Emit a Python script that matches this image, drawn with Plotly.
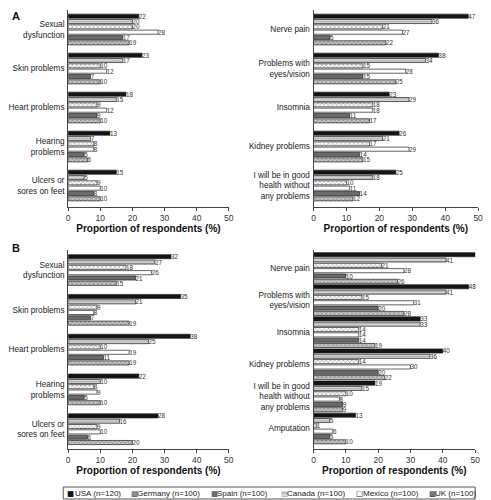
import plotly.graph_objects as go
from plotly.subplots import make_subplots

# ---------------- data ----------------
# bar order inside each group (top to bottom)
countries = ["USA", "Canada", "Germany", "Mexico", "Spain", "UK"]
legend_order = ["USA", "Germany", "Spain", "Canada", "Mexico", "UK"]
legend_labels = ["USA (n=120)", "Germany (n=100)", "Spain (n=100)",
                 "Canada (n=100)", "Mexico (n=100)", "UK (n=100)"]

cats_left = ["Sexual<br>dysfunction", "Skin problems", "Heart problems",
             "Hearing<br>problems", "Ulcers or<br>sores on feet"]
cats_right_a = ["Nerve pain", "Problems with<br>eyes/vision", "Insomnia",
                "Kidney problems", "I will be in good<br>health without<br>any problems"]
cats_right_b = ["Nerve pain", "Problems with<br>eyes/vision", "Insomnia",
                "Kidney problems", "I will be in good<br>health without<br>any problems",
                "Amputation"]

# values per country, in the order of `countries`
a_left = [[22, 23, 18, 13, 15],
          [20, 17, 15, 7, 5],
          [20, 10, 9, 8, 9],
          [28, 12, 12, 8, 10],
          [17, 7, 9, 5, 8],
          [19, 10, 10, 6, 10]]
a_right = [[47, 38, 23, 26, 25],
           [36, 34, 29, 21, 18],
           [21, 15, 18, 17, 10],
           [27, 28, 18, 29, 11],
           [5, 15, 11, 14, 14],
           [22, 25, 17, 15, 12]]
b_left = [[32, 35, 38, 22, 28],
          [27, 21, 25, 10, 16],
          [18, 9, 10, 8, 9],
          [26, 8, 19, 9, 10],
          [21, 7, 11, 5, 6],
          [15, 19, 19, 10, 20]]
b_right = [[51, 48, 33, 40, 19, 13],
           [41, 41, 33, 36, 15, 5],
           [21, 15, 14, 14, 10, 1],
           [28, 31, 14, 30, 8, 6],
           [10, 20, 14, 20, 9, 5],
           [26, 28, 19, 22, 9, 10]]

x_ticks = [0, 10, 20, 30, 40, 50]

# ---------------- styles ----------------
FONT = "Arial, Liberation Sans, DejaVu Sans, sans-serif"
OFF = 8                      # page body margin of the viewer
W, H = 491 - OFF, 500 - OFF  # figure size that fits the window


def px_x(v):
    return (v - OFF) / W


def px_y(v):
    return 1 - (v - OFF) / H


styles = {
    "USA": dict(color="#141414"),
    "Canada": dict(color="#c4c4c4",
                   pattern=dict(shape="-", fgcolor="#8c8c8c", bgcolor="#d2d2d2", size=2.5, solidity=0.35)),
    "Germany": dict(color="#ffffff",
                    pattern=dict(shape="x", fgcolor="#3a3a3a", bgcolor="#ffffff", size=3, solidity=0.35)),
    "Mexico": dict(color="#ffffff"),
    "Spain": dict(color="#6a6a6a"),
    "UK": dict(color="#bdbdbd",
               pattern=dict(shape="x", fgcolor="#2e2e2e", bgcolor="#c8c8c8", size=3, solidity=0.35)),
}
legend_syms = {
    "USA": ("■", "#141414"), "Germany": ("▩", "#555555"), "Spain": ("■", "#6a6a6a"),
    "Canada": ("▤", "#8a8a8a"), "Mexico": ("□", "#222222"), "UK": ("▩", "#333333"),
}

fig = make_subplots(rows=2, cols=2)

# panel geometry (window pixels)
panels = [
    # row, col, cats, values, x0px, x1px, ytop, ybot, first-center px, group pitch px
    (1, 1, cats_left, a_left, 67, 230, 10, 207, 29.5, 39.0),
    (1, 2, cats_right_a, a_right, 316, 483, 10, 207, 29.5, 39.0),
    (2, 1, cats_left, b_left, 67, 230, 250, 449, 270.0, 39.8),
    (2, 2, cats_right_b, b_right, 316, 480, 250, 449, 268.0, 32.1),
]
BAR_PITCH_PX = 5.33
BAR_W_PX = 4.1

for (r, c, cats, vals, x0, x1, yt, yb, c0, gp) in panels:
    p = BAR_PITCH_PX / gp
    w = BAR_W_PX / gp
    for k, ctry in enumerate(countries):
        st = styles[ctry]
        marker = dict(color=st["color"], line=dict(color="#222222", width=0.7))
        if "pattern" in st:
            marker["pattern"] = st["pattern"]
        fig.add_trace(go.Bar(
            y=cats, x=vals[k], orientation="h", name=ctry,
            width=w, offset=-3 * p + k * p + (p - w) / 2,
            marker=marker, text=vals[k], textposition="outside",
            textfont=dict(size=6.3, color="#333333", family=FONT),
            constraintext="none", cliponaxis=False, showlegend=False,
            hoverinfo="skip"), row=r, col=c)
    fig.update_xaxes(domain=[px_x(x0), px_x(x1)], range=[0, 50], tickvals=x_ticks,
                     showgrid=False, zeroline=False, showline=True, linecolor="#444444",
                     linewidth=1, ticks="outside", ticklen=3, tickcolor="#444444",
                     tickfont=dict(size=8.5, color="#333333", family=FONT),
                     title=dict(text="<b>Proportion of respondents (%)</b>",
                                font=dict(size=10, color="#111111", family=FONT), standoff=2),
                     row=r, col=c)
    fig.update_yaxes(domain=[px_y(yb), px_y(yt)], type="category",
                     categoryorder="array", categoryarray=cats,
                     range=[(yb - c0) / gp, (yt - c0) / gp],
                     showgrid=False, zeroline=False, showline=True, linecolor="#444444",
                     linewidth=1, ticks="", ticklabelstandoff=1,
                     tickfont=dict(size=8.2, color="#222222", family=FONT),
                     row=r, col=c)

# panel letters
fig.add_annotation(x=0, y=1, xref="paper", yref="paper", xanchor="left", yanchor="top",
                   text="<b>A</b>", showarrow=False, font=dict(size=11, color="#111111", family=FONT))
fig.add_annotation(x=0, y=px_y(240), xref="paper", yref="paper", xanchor="left", yanchor="top",
                   text="<b>B</b>", showarrow=False, font=dict(size=11, color="#111111", family=FONT))

# legend (manual, boxed): symbol and label placed separately
sym_x = [65, 130, 211, 282, 358, 432]
txt_x = [73, 136, 217, 288, 365, 438]
for sx, tx, ctry, lab in zip(sym_x, txt_x, legend_order, legend_labels):
    sym, col = legend_syms[ctry]
    fig.add_annotation(x=px_x(sx), y=px_y(493), xref="paper", yref="paper",
                       xanchor="left", yanchor="middle", showarrow=False, borderpad=0,
                       text=sym, font=dict(size=7.5, color=col, family="DejaVu Sans"))
    fig.add_annotation(x=px_x(tx), y=px_y(493), xref="paper", yref="paper",
                       xanchor="left", yanchor="middle", showarrow=False, borderpad=0,
                       text=lab, font=dict(size=8, color="#222222", family=FONT))
fig.add_shape(type="rect", xref="paper", yref="paper", x0=px_x(62), x1=px_x(480),
              y0=px_y(499), y1=px_y(487), line=dict(color="#555555", width=1))

fig.update_layout(width=W, height=H, margin=dict(l=0, r=0, t=0, b=0),
                  barmode="overlay", plot_bgcolor="white", paper_bgcolor="white",
                  showlegend=False, font=dict(family=FONT))

fig.write_html("out.html")
